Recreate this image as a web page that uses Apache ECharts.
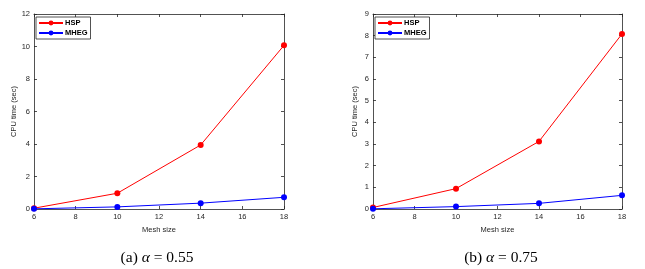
<!DOCTYPE html>
<html><head><meta charset="utf-8">
<script src="https://cdn.jsdelivr.net/npm/echarts@6/dist/echarts.min.js"></script>
<style>html,body{margin:0;padding:0;background:#fff}#c{width:645px;height:269px}</style>
</head><body><div id="c"></div>
<script>
const meshSizes = [6, 10, 14, 18];
const hspA = [0.05, 0.97, 3.94, 10.07];
const mhegA = [0.01, 0.13, 0.36, 0.72];
const hspB = [0.07, 0.94, 3.12, 8.08];
const mhegB = [0.01, 0.11, 0.26, 0.63];
const captions = ['(a) ', '(b) '];
const alphaVals = ['0.55', '0.75'];
const yMaxes = [12, 9];
const yIntervals = [2, 1];

const chart = echarts.init(document.getElementById('c'), null, {renderer: 'canvas'});
const font = 'Liberation Sans, Arial, Helvetica, sans-serif';
const grids = [
  {left: 34, right: 361, top: 14, bottom: 60},
  {left: 373, right: 23, top: 14, bottom: 60}
];
const xAxes = [], yAxes = [], series = [], legends = [], titles = [];
function pairs(vals){ return meshSizes.map((m,i)=>[m, vals[i]]); }
const seriesData = [[hspA, mhegA], [hspB, mhegB]];
grids.forEach((g, gi) => {
  const axLine = {show: true, onZero: false, lineStyle: {color: '#262626', width: 0.8}};
  const tick = {show: true, inside: true, length: 3, lineStyle: {color: '#262626', width: 0.8}};
  xAxes.push({type: 'value', gridIndex: gi, min: 6, max: 18, interval: 2, position: 'bottom',
    axisLine: axLine, axisTick: tick, splitLine: {show: false},
    axisLabel: {fontSize: 7.5, color: '#262626', fontFamily: font, margin: 4},
    name: 'Mesh size', nameLocation: 'middle', nameGap: 13,
    nameTextStyle: {fontSize: 7.5, color: '#262626', fontFamily: font}});
  xAxes.push({type: 'value', gridIndex: gi, min: 6, max: 18, interval: 2, position: 'top',
    axisLine: axLine, axisTick: tick, splitLine: {show: false}, axisLabel: {show: false}});
  yAxes.push({type: 'value', gridIndex: gi, min: 0, max: yMaxes[gi], interval: yIntervals[gi], position: 'left',
    axisLine: axLine, axisTick: tick, splitLine: {show: false},
    axisLabel: {fontSize: 7.5, color: '#262626', fontFamily: font, margin: 4},
    name: 'CPU time (sec)', nameLocation: 'middle', nameGap: 14,
    nameTextStyle: {fontSize: 7.5, color: '#262626', fontFamily: font}});
  yAxes.push({type: 'value', gridIndex: gi, min: 0, max: yMaxes[gi], interval: yIntervals[gi], position: 'right',
    axisLine: axLine, axisTick: tick, splitLine: {show: false}, axisLabel: {show: false}});
  const names = ['HSP', 'MHEG'];
  const colors = ['#ff0000', '#0000ff'];
  names.forEach((n, si) => {
    series.push({type: 'line', name: n, xAxisIndex: gi*2, yAxisIndex: gi*2,
      data: pairs(seriesData[gi][si]), symbol: 'circle', symbolSize: 6,
      lineStyle: {color: colors[si], width: 1}, itemStyle: {color: colors[si]},
      animation: false, z: si === 0 ? 3 : 4});
  });
  legends.push({data: names, left: g.left + 2, top: 17, orient: 'vertical',
    itemWidth: 24, itemHeight: 6, itemGap: 2, padding: [2, 3, 2, 2],
    borderColor: '#262626', borderWidth: 0.8, backgroundColor: '#fff',
    textStyle: {fontSize: 7.5, fontFamily: font, color: '#000', fontWeight: 'bold', padding: [0,0,0,-3]},
    selectedMode: false});
  titles.push({text: captions[gi] + '{i|α} = ' + alphaVals[gi],
    left: gi === 0 ? 152 : 496, top: 245, textAlign: 'center',
    textStyle: {fontSize: 15.5, fontFamily: 'Liberation Serif, Times New Roman, serif', fontWeight: 'normal', color: '#000',
      rich: {i: {fontSize: 15.5, fontStyle: 'italic', fontFamily: 'Liberation Serif, Times New Roman, serif'}}}});
});
chart.setOption({
  animation: false,
  backgroundColor: '#fff',
  title: titles,
  legend: legends,
  grid: grids,
  xAxis: xAxes,
  yAxis: yAxes,
  series: series
});
</script></body></html>
